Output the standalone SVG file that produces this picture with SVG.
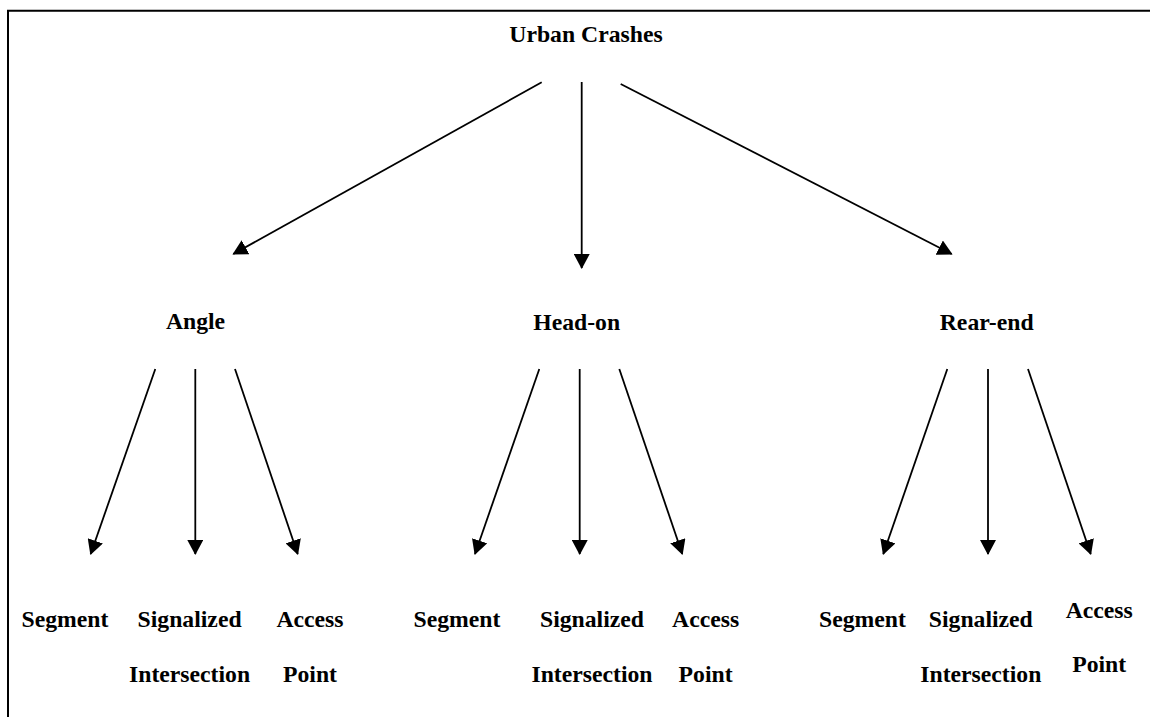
<svg xmlns="http://www.w3.org/2000/svg" width="1150" height="717" viewBox="0 0 1150 717">
<style>
  .t { font-family: "Liberation Serif", "Times New Roman", serif; font-weight: bold; font-size: 23.7px; fill: #000; text-anchor: middle; }
  .c { stroke: #000; stroke-width: 1.8; fill: none; marker-end: url(#ah); }
</style>
<defs>
  <marker id="ah" viewBox="0 0 15 16" markerWidth="15" markerHeight="16" refX="14" refY="8" orient="auto" markerUnits="userSpaceOnUse">
    <path d="M0,0 L15,8 L0,16 z" fill="#000"/>
  </marker>
</defs>
<rect width="1150" height="717" fill="#fff"/>
<path d="M8,717 V10.8 H1150" stroke="#000" stroke-width="2" fill="none"/>
<g id="connectors">
  <line class="c" x1="541.7" y1="82.3" x2="233.3" y2="254"/>
  <line class="c" x1="581.7" y1="82" x2="581.7" y2="268"/>
  <line class="c" x1="620.7" y1="84" x2="951.7" y2="254"/>
  <line class="c" x1="155.3" y1="369" x2="90.7" y2="554"/>
  <line class="c" x1="195.3" y1="369" x2="195.3" y2="554"/>
  <line class="c" x1="235" y1="369" x2="297.7" y2="554"/>
  <line class="c" x1="539.3" y1="369" x2="475" y2="554"/>
  <line class="c" x1="579.7" y1="369" x2="579.7" y2="554"/>
  <line class="c" x1="619.3" y1="369" x2="682.3" y2="554"/>
  <line class="c" x1="947.3" y1="369" x2="883.3" y2="554"/>
  <line class="c" x1="988" y1="369" x2="988" y2="554"/>
  <line class="c" x1="1028" y1="369" x2="1090.7" y2="554"/>
</g>
<g id="urban-crashes"><text class="t" x="586" y="42">Urban Crashes</text></g>
<g id="angle"><text class="t" x="195.5" y="329">Angle</text></g>
<g id="head-on"><text class="t" x="576.7" y="330">Head-on</text></g>
<g id="rear-end"><text class="t" x="986.7" y="330">Rear-end</text></g>
<g id="angle-segment"><text class="t" x="65" y="626.7">Segment</text></g>
<g id="angle-signalized"><text class="t" x="189.6" y="626.7">Signalized</text><text class="t" x="189.6" y="682.3">Intersection</text></g>
<g id="angle-access"><text class="t" x="310" y="626.7">Access</text><text class="t" x="310" y="682.3">Point</text></g>
<g id="headon-segment"><text class="t" x="457" y="626.7">Segment</text></g>
<g id="headon-signalized"><text class="t" x="592" y="626.7">Signalized</text><text class="t" x="592" y="682.3">Intersection</text></g>
<g id="headon-access"><text class="t" x="705.6" y="626.7">Access</text><text class="t" x="705.6" y="682.3">Point</text></g>
<g id="rearend-segment"><text class="t" x="862.5" y="626.7">Segment</text></g>
<g id="rearend-signalized"><text class="t" x="980.8" y="626.7">Signalized</text><text class="t" x="980.8" y="682.3">Intersection</text></g>
<g id="rearend-access"><text class="t" x="1099.2" y="618.3">Access</text><text class="t" x="1099.2" y="672.3">Point</text></g>
</svg>
